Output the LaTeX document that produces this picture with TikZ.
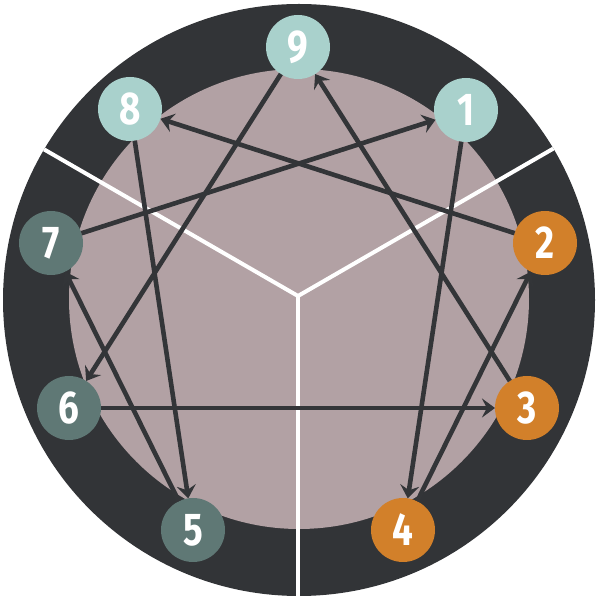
\documentclass[tikz,border=0pt]{standalone}
\usepackage{fontspec}
\setmainfont{Fira Sans}
\usetikzlibrary{arrows.meta}

\tikzset{
  point/.style={circle,inner sep=0pt,outer sep=0pt,minimum size=32pt,text=white,
    font=\fontsize{23}{23}\selectfont\bfseries},
  link/.style={draw=lineColor,line width=2.3pt,-{Stealth[length=6.5pt,width=9.5pt,inset=2.4pt]}},
  plain link/.style={draw=lineColor,line width=2.3pt}
}
\newcommand{\digit}[1]{\scalebox{0.8}[1]{#1}}

\begin{document}
\begin{tikzpicture}[x=0.5pt,y=0.5pt]
\definecolor{ringColor}{RGB}{50,52,55}
\definecolor{discColor}{RGB}{178,161,164}
\definecolor{lineColor}{RGB}{51,53,56}
\definecolor{headColor}{RGB}{169,209,204}
\definecolor{heartColor}{RGB}{95,120,117}
\definecolor{gutColor}{RGB}{210,128,42}
\path[use as bounding box] (0,0) rectangle (600,600);

\path[fill=ringColor] (299,300) circle (296);
\path[fill=discColor] (299,301) circle (230);

\begin{scope}
\path[clip] (299,300) circle (296);
\coordinate (mid) at (298,304);
\path[draw=white,line width=2pt] (mid) -- +(0,-320);
\path[draw=white,line width=2pt] (mid) -- +(150:320);
\path[draw=white,line width=2pt] (mid) -- +(30:320);
\end{scope}

\node[point,fill=headColor] (n9) at (298,553) {\digit{9}};
\node[point,fill=headColor] (n8) at (130,491) {\digit{8}};
\node[point,fill=headColor] (n1) at (466,490) {\digit{1}};
\node[point,fill=heartColor] (n7) at (51,357) {\digit{7}};
\node[point,fill=gutColor] (n2) at (545,357) {\digit{2}};
\node[point,fill=heartColor] (n6) at (69,192) {\digit{6}};
\node[point,fill=gutColor] (n3) at (527,192) {\digit{3}};
\node[point,fill=heartColor] (n5) at (193,70) {\digit{5}};
\node[point,fill=gutColor] (n4) at (403,70) {\digit{4}};

\path[link] (n9) -- (n6);
\path[link] (n6) -- (n3);
\path[link] (n3) -- (n9);

\path[link] (n1) -- (n4);
\path[link] (n4) -- (n2);
\path[link] (n2) -- (n8);
\path[link] (n8) -- (n5);
\path[link] (n5) -- (n7);
\path[link] (n7) -- (n1);
\end{tikzpicture}
\end{document}
